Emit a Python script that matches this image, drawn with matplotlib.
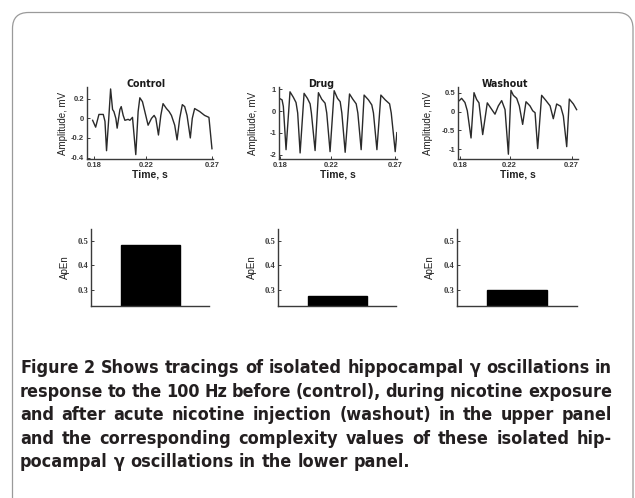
import os
import matplotlib
matplotlib.use("Agg")
import matplotlib.pyplot as plt
from matplotlib import font_manager as fm
from matplotlib.patches import PathPatch
from matplotlib.path import Path

# figure size in pixels
W, H = 635, 498
DPI = 100

CONDITIONS = ["Control", "Drug", "Washout"]

# traces (time in s, amplitude in mV)
controlT = [0.179, 0.1813, 0.1838, 0.1871, 0.1884, 0.1896, 0.1912, 0.1927, 0.1942, 0.1952, 0.1967,
            0.1977, 0.1998, 0.2008, 0.2023, 0.2036, 0.2061, 0.2074, 0.2094, 0.2119, 0.2137, 0.2150,
            0.2170, 0.2188, 0.2213, 0.2239, 0.2259, 0.2272, 0.2292, 0.2310, 0.2327, 0.2353, 0.2373,
            0.2391, 0.2416, 0.2434, 0.2454, 0.2474, 0.2492, 0.2510, 0.2535, 0.2550, 0.2568, 0.2606,
            0.2644, 0.2677, 0.2700]
controlV = [-0.02, -0.09, 0.04, 0.04, -0.03, -0.33, -0.02, 0.30, 0.09, 0.07, 0.00,
            -0.10, 0.09, 0.12, 0.03, -0.02, -0.01, -0.02, 0.01, -0.37, 0.07, 0.21,
            0.17, 0.07, -0.07, 0.00, 0.03, 0.00, -0.17, 0.03, 0.15, 0.10, 0.07,
            0.03, -0.07, -0.22, 0.00, 0.14, 0.12, 0.03, -0.20, 0.00, 0.10, 0.07,
            0.03, 0.01, -0.31]

drugT = [0.1795, 0.1816, 0.1826, 0.1847, 0.1878, 0.1904, 0.1925, 0.1938, 0.1957, 0.1988, 0.2014,
         0.2035, 0.2045, 0.2074, 0.2100, 0.2126, 0.2152, 0.2165, 0.2191, 0.2223, 0.2249, 0.2270,
         0.2283, 0.2309, 0.2343, 0.2369, 0.2395, 0.2408, 0.2434, 0.2457, 0.2491, 0.2517, 0.2530,
         0.2557, 0.2588, 0.2622, 0.2656, 0.2669, 0.2700, 0.2713]
drugV = [0.58, 0.51, 0.21, -1.77, 0.88, 0.63, 0.39, -0.09, -1.92, 0.81, 0.58,
         0.33, -0.09, -1.81, 0.84, 0.54, 0.36, -0.09, -1.86, 0.93, 0.58, 0.43,
         -0.09, -1.89, 0.78, 0.54, 0.33, -0.09, -1.77, 0.73, 0.51, 0.28, -0.09,
         -1.77, 0.73, 0.51, 0.33, -0.09, -1.86, -0.99]

washT = [0.1795, 0.1813, 0.1840, 0.1859, 0.1889, 0.1913, 0.1934, 0.1953, 0.1983, 0.2020, 0.2055,
         0.2082, 0.2109, 0.2136, 0.2163, 0.2190, 0.2211, 0.2230, 0.2257, 0.2278, 0.2305, 0.2332,
         0.2364, 0.2386, 0.2405, 0.2426, 0.2458, 0.2493, 0.2526, 0.2552, 0.2579, 0.2611, 0.2633,
         0.2660, 0.2681, 0.2714, 0.2740]
washV = [0.29, 0.35, 0.24, 0.02, -0.70, 0.50, 0.32, 0.23, -0.61, 0.23, 0.06,
         -0.07, 0.15, 0.29, 0.05, -1.13, 0.56, 0.43, 0.35, 0.15, -0.34, 0.26,
         0.15, 0.02, -0.03, -0.98, 0.43, 0.29, 0.15, -0.19, 0.20, 0.14, -0.12,
         -0.93, 0.33, 0.20, 0.05]

TRACES = [(controlT, controlV), (drugT, drugV), (washT, washV)]
TRACE_YTICKS = [[-0.4, -0.2, 0, 0.2], [-2, -1, 0, 1], [-1, -0.5, 0, 0.5]]
TRACE_YLABELS = [["-0.4", "-0.2", "0", "0.2"], ["-2", "-1", "0", "1"], ["-1", "-0.5", "0", "0.5"]]
TIME_TICKS = [0.18, 0.22, 0.27]
TIME_LABELS = ["0.18", "0.22", "0.27"]

APEN = [0.483, 0.275, 0.298]
APEN_TICKS = [0.3, 0.4, 0.5]
APEN_LABELS = ["0.3", "0.4", "0.5"]

CAPTION_LINES = [
    "Figure 2 Shows tracings of isolated hippocampal γ oscillations in",
    "response to the 100 Hz before (control), during nicotine exposure",
    "and after acute nicotine injection (washout) in the upper panel",
    "and the corresponding complexity values of these isolated hip-",
    "pocampal γ oscillations in the lower panel.",
]

# layout (pixels from top-left)
TOP_BOX = [(87, 213, (0.1747, 0.2708), (-0.42, 0.32)),
           (279, 397, (0.1792, 0.2714), (-2.22, 1.10)),
           (458, 578, (0.1784, 0.2751), (-1.27, 0.65))]
BAR_BOX = [(91, 209), (278, 396), (457, 577)]
TITLE_X = [146, 321, 505]
YLAB_X = [-0.15, -0.18, -0.21]

AXCOL = "#3a3a3a"
plt.rcParams["axes.unicode_minus"] = False


def findFont(groups):
    # first installed file whose name has all the keys of a group
    files = [f.fname for f in fm.fontManager.ttflist]
    for keys in groups:
        for fn in files:
            base = os.path.basename(fn).lower()
            if all(k in base for k in keys) and "italic" not in base:
                return fn
    return None


semiFile = findFont([("notosans-condensedsemibold",), ("opensans", "condensed", "semibold"),
                     ("dejavusanscondensed-bold",), ("liberationsansnarrow-bold",)])
boldFile = findFont([("notosans-condensedbold",), ("opensans", "condensed-bold"),
                     ("dejavusanscondensed-bold",), ("liberationsansnarrow-bold",)]) or semiFile


def capProps(size, heavy=False):
    fn = boldFile if heavy else semiFile
    if fn:
        return fm.FontProperties(fname=fn, size=size)
    return fm.FontProperties(family=["Lato", "DejaVu Sans"], weight="heavy" if heavy else "bold", size=size)


def rect(l, r, t, b):
    return [l / W, 1 - b / H, (r - l) / W, (b - t) / H]


fig = plt.figure(figsize=(W / DPI, H / DPI), dpi=DPI)
inch = fig.dpi_scale_trans

# rounded frame, open at the bottom (pixel coords from top-left, turned into inches)
fx0, fx1, fy0, rad = 12.5, 633.0, 12.5, 16.0
framePts = [(fx0, H + 5), (fx0, fy0 + rad), (fx0, fy0), (fx0 + rad, fy0),
            (fx1 - rad, fy0), (fx1, fy0), (fx1, fy0 + rad), (fx1, H + 5)]
frameCodes = [Path.MOVETO, Path.LINETO, Path.CURVE3, Path.CURVE3,
              Path.LINETO, Path.CURVE3, Path.CURVE3, Path.LINETO]
framePath = Path([(x / DPI, (H - y) / DPI) for x, y in framePts], frameCodes)
fig.add_artist(PathPatch(framePath, transform=inch, fill=False, edgecolor="#9a9a9a", linewidth=0.9))

tickFont = dict(family="Liberation Sans", weight="bold", size=5.5)
for i, (l, r, xl, yl) in enumerate(TOP_BOX):
    ax = fig.add_axes(rect(l, r, 87, 159.5))
    t, v = TRACES[i]
    ax.plot(t, v, color="#2a2a2a", linewidth=1.0)
    ax.set_xlim(*xl)
    ax.set_ylim(*yl)
    ax.set_xticks(TIME_TICKS)
    ax.set_xticklabels(TIME_LABELS, fontdict=tickFont)
    ax.set_yticks(TRACE_YTICKS[i])
    ax.set_yticklabels(TRACE_YLABELS[i], fontdict=tickFont)
    ax.tick_params(direction="in", length=2, width=0.7, pad=2, colors=AXCOL)
    for s in ("top", "right"):
        ax.spines[s].set_visible(False)
    for s in ("left", "bottom"):
        ax.spines[s].set_color(AXCOL)
        ax.spines[s].set_linewidth(1.0)
    ax.set_ylabel("Amplitude, mV", family="Liberation Sans", size=7, color="#222222")
    ax.yaxis.set_label_coords(YLAB_X[i], 0.5)
    ax.set_xlabel("Time, s", family="Liberation Sans", weight="bold", size=7.5, color="#222222")
    ax.xaxis.set_label_coords(0.5, -0.21)
    ax.xaxis.label.set_va("center")
    fig.text(TITLE_X[i] / DPI, (H - 84) / DPI, CONDITIONS[i], transform=inch,
             ha="center", va="center", color="#1a1a1a", fontproperties=capProps(7.6))

barFont = dict(family="Liberation Serif", weight="bold", size=6.2)
for i, (l, r) in enumerate(BAR_BOX):
    ax = fig.add_axes(rect(l, r, 229, 306))
    ax.bar([1], [APEN[i]], width=0.5, color="black", edgecolor="black")
    ax.set_xlim(0.5, 1.5)
    ax.set_ylim(0.232, 0.551)
    ax.set_xticks([])
    ax.set_yticks(APEN_TICKS)
    ax.set_yticklabels(APEN_LABELS, fontdict=barFont)
    ax.tick_params(direction="in", length=2, width=0.7, pad=2, colors=AXCOL)
    for s in ("top", "right"):
        ax.spines[s].set_visible(False)
    for s in ("left", "bottom"):
        ax.spines[s].set_color(AXCOL)
        ax.spines[s].set_linewidth(1.0)
    ax.set_ylabel("ApEn", family="Liberation Sans", size=7, color="#222222")
    ax.yaxis.set_label_coords(-0.18, 0.5)

# caption, justified word by word
renderer = fig.canvas.get_renderer()
CAPCOL = "#231f20"
X0, X1 = 20, 612
BASES = [373, 397, 420, 444, 467]


def width(s, size, heavy=False):
    t = fig.text(0, 0, s, fontproperties=capProps(size, heavy))
    w = t.get_window_extent(renderer).width
    t.remove()
    return w


size = 13
size *= (X1 - X0) / width(CAPTION_LINES[0], size)
space = width("a a", size) - width("aa", size)

for li, line in enumerate(CAPTION_LINES):
    words = line.split(" ")
    heavy = [li == 0 and wi < 2 for wi in range(len(words))]
    ws = [width(w, size, hv) for w, hv in zip(words, heavy)]
    if li < len(CAPTION_LINES) - 1:
        gap = max((X1 - X0 - sum(ws)) / (len(words) - 1), 1.5)
    else:
        gap = space
    x = X0
    for w, hv, wd in zip(words, heavy, ws):
        fig.text(x / DPI, (H - BASES[li]) / DPI, w, transform=inch, ha="left", va="baseline",
                 color=CAPCOL, fontproperties=capProps(size, hv))
        x += wd + gap

fig.savefig("out.png", dpi=DPI)
